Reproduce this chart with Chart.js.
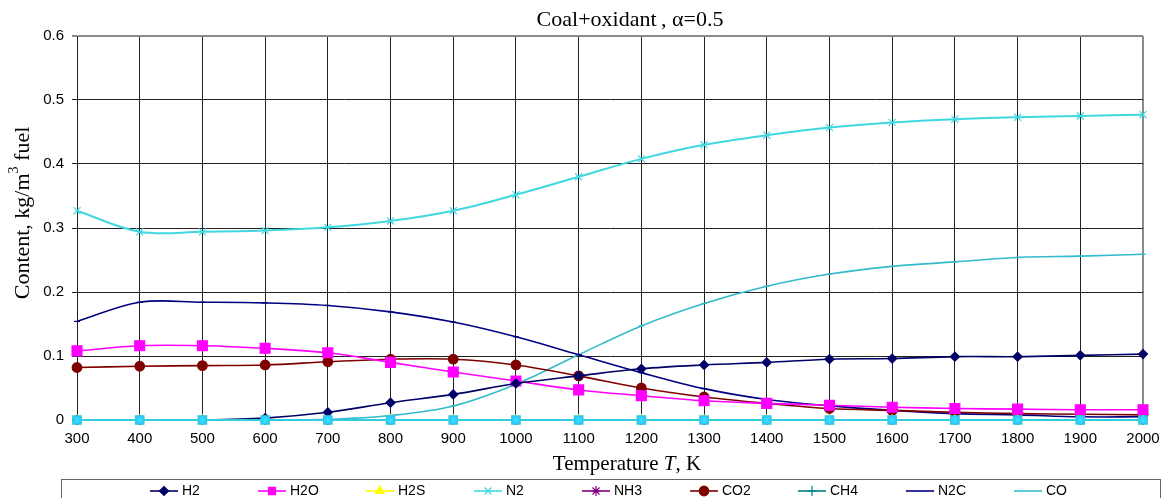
<!DOCTYPE html>
<html>
<head>
<meta charset="utf-8">
<script src="https://cdn.jsdelivr.net/npm/chart.js@4.4.1/dist/chart.umd.min.js"></script>
<style>
  body { margin: 0; background: #fff; }
  canvas { display: block; }
</style>
</head>
<body>
<canvas id="chart" width="1167" height="498"></canvas>
<script>
// Temperature, K
const temps = [300, 400, 500, 600, 700, 800, 900, 1000, 1100, 1200, 1300, 1400, 1500, 1600, 1700, 1800, 1900, 2000];

// Content, kg/m3 fuel
const h2  = [0, 0, 0, 0.003, 0.012, 0.027, 0.040, 0.057, 0.069, 0.080, 0.086, 0.090, 0.095, 0.096, 0.099, 0.099, 0.101, 0.103];
const h2o = [0.108, 0.116, 0.116, 0.112, 0.105, 0.090, 0.075, 0.061, 0.047, 0.038, 0.030, 0.026, 0.023, 0.020, 0.018, 0.017, 0.016, 0.016];
const h2s = [0, 0, 0, 0, 0, 0, 0, 0, 0, 0, 0, 0, 0, 0, 0, 0, 0, 0];
const n2  = [0.327, 0.294, 0.294, 0.296, 0.301, 0.311, 0.327, 0.352, 0.380, 0.408, 0.430, 0.445, 0.457, 0.465, 0.470, 0.473, 0.475, 0.477];
const nh3 = [0, 0, 0, 0, 0, 0, 0, 0, 0, 0, 0, 0, 0, 0, 0, 0, 0, 0];
const co2 = [0.082, 0.084, 0.085, 0.086, 0.091, 0.095, 0.095, 0.086, 0.069, 0.050, 0.036, 0.026, 0.018, 0.015, 0.012, 0.010, 0.009, 0.008];
const ch4 = [0, 0, 0, 0, 0, 0, 0, 0, 0, 0, 0, 0, 0, 0, 0, 0, 0, 0];
const n2c = [0.154, 0.184, 0.184, 0.183, 0.179, 0.169, 0.153, 0.130, 0.102, 0.074, 0.049, 0.032, 0.022, 0.015, 0.010, 0.008, 0.005, 0.005];
const co  = [0, 0, 0, 0, 0.001, 0.007, 0.022, 0.056, 0.102, 0.147, 0.182, 0.209, 0.228, 0.240, 0.247, 0.254, 0.256, 0.259];
// markers sitting on the zero line that are not in the visible legend row
const zeroLine = [0, 0, 0, 0, 0, 0, 0, 0, 0, 0, 0, 0, 0, 0, 0, 0, 0, 0];

const yTicks = [0, 0.1, 0.2, 0.3, 0.4, 0.5, 0.6];

function pts(arr) {
    return arr.map(function (v, i) { return { x: temps[i], y: v }; });
}

function series(label, arr, color, style, radius, fill, width) {
    return {
        label: label,
        data: pts(arr),
        borderColor: color,
        backgroundColor: fill || color,
        pointStyle: style,
        pointRadius: radius,
        pointBorderColor: color,
        pointBackgroundColor: fill || color,
        pointBorderWidth: 1.2,
        borderWidth: width || 1.6,
        tension: 0.35,
        clip: false
    };
}

const datasets = [
    series('H2', h2, '#000066', 'rectRot', 4.5),
    series('H2O', h2o, '#ff00ff', 'rect', 7),
    series('H2S', h2s, '#ffff00', 'triangle', 5),
    series('N2', n2, '#40d8e0', 'crossRot', 5, null, 2),
    series('NH3', nh3, '#800080', 'star', 5),
    series('CO2', co2, '#800000', 'circle', 4.8),
    series('CH4', ch4, '#008080', 'cross', 5),
    series('N2C', n2c, '#000080', 'line', 3),
    series('CO', co, '#33bbcc', 'line', 3)
];
// zero-line marks drawn on top
const zA = series('', zeroLine, '#33ccdd', 'rect', 6, '#33bbff', 2);
zA.order = -2;
const zB = series('', zeroLine, '#33e0ff', 'star', 4);
zB.showLine = false;
zB.order = -3;
datasets.push(zA, zB);

const legendNames = ['H2', 'H2O', 'H2S', 'N2', 'NH3', 'CO2', 'CH4', 'N2C', 'CO'];

function drawRich(c, parts, x, y) {
    var total = 0;
    parts.forEach(function (p) { c.font = p.font; p.w = c.measureText(p.t).width; total += p.w; });
    var cx = x - total / 2;
    c.textAlign = 'left';
    c.textBaseline = 'middle';
    parts.forEach(function (p) {
        c.font = p.font;
        c.fillText(p.t, cx, y + (p.dy || 0));
        cx += p.w;
    });
}

const textPlugin = {
    id: 'textPlugin',
    afterDraw: function (chart) {
        var c = chart.ctx;
        c.save();
        c.fillStyle = '#000';
        var serif = '"Liberation Serif", "Times New Roman", serif';

        // title
        drawRich(c, [
            { t: 'Coal+oxidant\u2009, ', font: '22px ' + serif },
            { t: 'α', font: '22px ' + serif },
            { t: '=0.5', font: '22px ' + serif }
        ], 630, 20);

        // x axis title
        drawRich(c, [
            { t: 'Temperature ', font: '21px ' + serif },
            { t: 'T', font: 'italic 21px ' + serif },
            { t: ', K', font: '21px ' + serif }
        ], 627, 464);

        // y axis title
        c.save();
        c.translate(23, 213);
        c.rotate(-Math.PI / 2);
        drawRich(c, [
            { t: 'Content, kg/m', font: '22px ' + serif },
            { t: '3', font: '14px ' + serif, dy: -9 },
            { t: ' fuel', font: '22px ' + serif }
        ], 0, 0);
        c.restore();

        // legend box
        c.strokeStyle = '#666';
        c.lineWidth = 1;
        c.strokeRect(61.5, 479.5, 1099, 30);

        var startX = 150, step = 108, ly = 491;
        c.font = '14px "Liberation Sans", Arial, sans-serif';
        c.textBaseline = 'middle';
        c.textAlign = 'left';
        legendNames.forEach(function (name, i) {
            var ds = chart.data.datasets[i];
            var x0 = startX + step * i;
            c.strokeStyle = ds.borderColor;
            c.lineWidth = 1.6;
            c.beginPath();
            c.moveTo(x0, ly);
            c.lineTo(x0 + 28, ly);
            c.stroke();
            if (ds.pointStyle !== 'line') {
                c.fillStyle = ds.pointBackgroundColor;
                c.strokeStyle = ds.pointBorderColor;
                c.lineWidth = 1.2;
                Chart.helpers.drawPoint(c, {
                    pointStyle: ds.pointStyle,
                    radius: Math.min(ds.pointRadius, 5),
                    rotation: 0,
                    borderWidth: 1.2
                }, x0 + 14, ly);
            }
            c.fillStyle = '#000';
            c.fillText(name, x0 + 32, ly);
        });
        c.restore();
    }
};

const ctx = document.getElementById('chart').getContext('2d');
const chart = new Chart(ctx, {
    type: 'line',
    data: { datasets: datasets },
    options: {
        responsive: false,
        animation: false,
        layout: { padding: { top: 36, right: 24, bottom: 0, left: 0 } },
        plugins: {
            legend: { display: false },
            title: { display: false },
            tooltip: { enabled: false }
        },
        scales: {
            x: {
                type: 'linear',
                min: 300,
                max: 2000,
                afterFit: function (s) { s.height = 78; },
                ticks: {
                    stepSize: 100,
                    color: '#000',
                    padding: 5,
                    maxRotation: 0,
                    font: { family: '"Liberation Sans", Arial, sans-serif', size: 15 },
                    callback: function (v) { return String(v); }
                },
                grid: {
                    color: function (c) { return c.index === temps.length - 1 ? '#8a8a8a' : '#222'; },
                    lineWidth: function (c) { return c.index === temps.length - 1 ? 2 : 1; },
                    tickLength: 5
                },
                border: { color: '#222' }
            },
            y: {
                min: 0,
                max: 0.6,
                afterFit: function (s) { s.width = 77; },
                afterBuildTicks: function (s) { s.ticks = yTicks.map(function (v) { return { value: v }; }); },
                ticks: {
                    color: '#000',
                    padding: 8,
                    font: { family: '"Liberation Sans", Arial, sans-serif', size: 15 },
                    callback: function (v) { return v === 0 ? '0' : v.toFixed(1); }
                },
                grid: {
                    color: function (c) { return c.index === yTicks.length - 1 ? '#8a8a8a' : '#222'; },
                    lineWidth: function (c) { return c.index === yTicks.length - 1 ? 2 : 1; },
                    tickLength: 5
                },
                border: { color: '#222' }
            }
        }
    },
    plugins: [textPlugin]
});
</script>
</body>
</html>
